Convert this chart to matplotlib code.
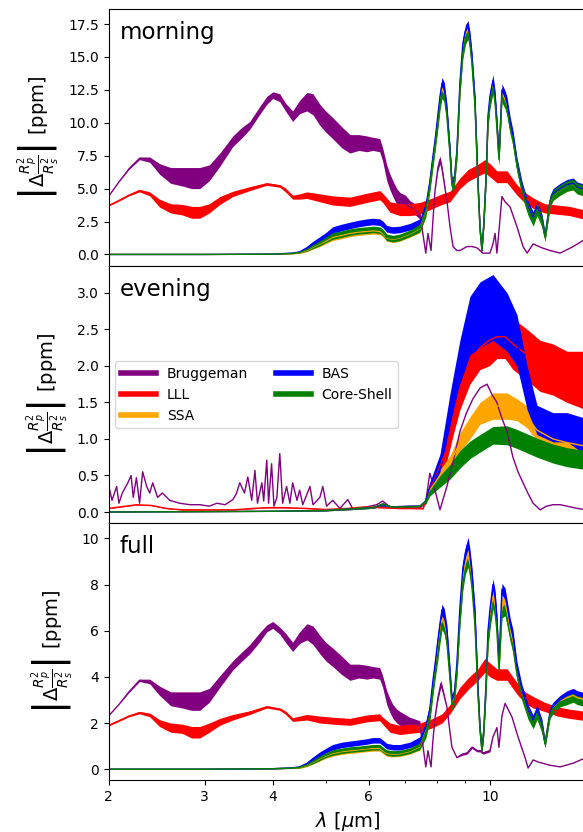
import numpy as np
import matplotlib
matplotlib.use("Agg")
import matplotlib.pyplot as plt
from matplotlib.ticker import FixedLocator, NullFormatter
from matplotlib.lines import Line2D

# ---------------- data (wavelength in micron, values in ppm) ----------------
series_names = ["Bruggeman", "LLL", "SSA", "BAS", "Core-Shell"]
series_colors = ["purple", "red", "orange", "blue", "green"]
panel_labels = ["morning", "evening", "full"]
xtick_vals = [2, 3, 4, 6, 10]
xtick_labels = ["2", "3", "4", "6", "10"]
xminor_vals = [5, 7, 8, 9]

# --- morning: Bruggeman
morning_brug_lam = [2.0, 2.09, 2.18, 2.28, 2.38, 2.48, 2.6, 2.73, 2.84, 2.94,
                    3.06, 3.2, 3.38, 3.5, 3.63, 3.78, 3.9, 4.0, 4.12, 4.22,
                    4.35, 4.48, 4.62, 4.74, 4.88, 5.0, 5.15, 5.35, 5.54, 5.75,
                    5.95, 6.1, 6.28, 6.36, 6.47, 6.56, 6.64, 6.75, 6.84, 7.0,
                    7.13, 7.3, 7.44, 7.54, 7.63, 7.70, 7.80, 7.86, 7.93, 8.03,
                    8.10, 8.17, 8.34, 8.45, 8.56, 8.70, 8.81, 9.08, 9.27, 9.47,
                    9.71, 10.0, 10.13, 10.22, 10.30, 10.39, 10.52, 10.66, 10.89, 11.21,
                    11.5, 11.7, 12.0, 12.46, 12.89, 13.45, 14.21, 15.0]
morning_brug_val = [4.4, 5.5, 6.5, 7.3, 7.2, 6.5, 6.0, 5.9, 5.8, 5.8,
                    6.2, 7.2, 8.6, 9.2, 9.8, 10.9, 11.7, 12.1, 11.9, 11.2,
                    10.5, 11.2, 11.6, 11.4, 10.6, 10.1, 9.6, 8.9, 8.4, 8.5,
                    8.4, 8.4, 8.3, 7.6, 6.2, 5.5, 5.0, 4.4, 4.1, 3.9,
                    3.6, 3.4, 3.0, 1.5, 0.1, 1.6, 0.3, 2.5, 4.8, 6.6,
                    7.2, 6.5, 4.1, 2.1, 0.6, 0.3, 0.3, 0.6, 0.6, 0.5,
                    0.1, 0.1, 0.8, 1.6, 0.1, 1.8, 4.4, 4.0, 3.6, 2.1,
                    0.6, 0.1, 0.8, 0.5, 0.3, 0.1, 0.6, 1.2]
morning_brug_spread = [0, 0, 0.05, 0.1, 0.2, 0.4, 0.6, 0.7, 0.8, 0.8,
                       0.6, 0.5, 0.4, 0.4, 0.3, 0.3, 0.3, 0.25, 0.3, 0.3,
                       0.4, 0.5, 0.7, 0.8, 0.8, 0.8, 0.8, 0.8, 0.7, 0.6,
                       0.6, 0.5, 0.5, 0.5, 0.6, 0.6, 0.6, 0.6, 0.6, 0.6,
                       0.5, 0.4, 0.3, 0, 0, 0, 0, 0, 0, 0.2,
                       0.3, 0.2, 0, 0, 0, 0, 0, 0, 0, 0,
                       0, 0, 0, 0, 0, 0, 0, 0, 0, 0,
                       0, 0, 0, 0, 0, 0, 0, 0]

# --- LLL grid (morning and full)
lll_lam = [2.0, 2.09, 2.18, 2.28, 2.38, 2.48, 2.6, 2.73, 2.84, 2.94,
           3.06, 3.2, 3.38, 3.63, 3.9, 4.12, 4.22, 4.35, 4.48, 4.62,
           4.88, 5.15, 5.54, 5.95, 6.28, 6.36, 6.56, 6.84, 7.13, 7.44,
           7.86, 8.17, 8.45, 8.81, 9.12, 9.51, 9.79, 10.0, 10.3, 10.75,
           11.21, 11.6, 12.0, 12.6, 13.3, 14.0, 15.0]
morning_lll_val = [3.7, 4.1, 4.5, 4.85, 4.6, 3.9, 3.5, 3.4, 3.2, 3.2,
                   3.5, 4.1, 4.6, 5.0, 5.35, 5.2, 4.9, 4.35, 4.4, 4.5,
                   4.3, 4.1, 4.0, 4.3, 4.5, 4.3, 3.6, 3.4, 3.4, 3.5,
                   3.9, 4.2, 4.4, 5.4, 6.0, 6.4, 6.7, 6.4, 5.9, 5.9,
                   4.9, 4.3, 3.9, 3.5, 3.4, 3.3, 3.0]
morning_lll_spread = [0.03, 0.05, 0.05, 0.1, 0.15, 0.3, 0.35, 0.4, 0.45, 0.45,
                      0.35, 0.3, 0.2, 0.15, 0.1, 0.1, 0.15, 0.15, 0.2, 0.25,
                      0.3, 0.35, 0.35, 0.35, 0.35, 0.35, 0.4, 0.45, 0.45, 0.45,
                      0.4, 0.4, 0.4, 0.4, 0.45, 0.45, 0.5, 0.5, 0.45, 0.45,
                      0.4, 0.4, 0.4, 0.35, 0.35, 0.35, 0.35]

# --- dust-type grid (morning and full: SSA, BAS, Core-Shell)
dust_lam = [2.0, 3.0, 4.0, 4.35, 4.48, 4.62, 4.74, 4.88, 5.0, 5.15,
            5.35, 5.54, 5.75, 5.95, 6.1, 6.28, 6.36, 6.47, 6.64, 6.84,
            7.13, 7.44, 7.63, 7.76, 7.86, 7.93, 8.03, 8.10, 8.17, 8.25,
            8.34, 8.45, 8.52, 8.60, 8.70, 8.81, 8.92, 9.02, 9.12, 9.19,
            9.27, 9.39, 9.51, 9.59, 9.67, 9.75, 9.84, 9.92, 10.0, 10.13,
            10.22, 10.30, 10.39, 10.52, 10.66, 10.75, 10.89, 11.02, 11.21, 11.45,
            11.6, 11.75, 12.0, 12.2, 12.46, 12.62, 12.89, 13.05, 13.45, 13.85,
            14.21, 14.45, 15.0]
morning_ssa_val = [0.0, 0.0, 0.02, 0.07, 0.13, 0.3, 0.55, 0.8, 1.0, 1.3,
                   1.45, 1.6, 1.7, 1.75, 1.8, 1.75, 1.6, 1.25, 1.15, 1.25,
                   1.55, 1.95, 3.3, 5.3, 7.1, 8.3, 10.2, 11.6, 12.6, 12.2,
                   10.7, 7.7, 5.3, 5.5, 7.7, 12.6, 15.6, 16.7, 17.1, 16.2,
                   14.7, 11.4, 5.3, 2.0, 0.3, 2.4, 5.9, 10.2, 11.7, 13.0,
                   11.7, 9.8, 7.3, 12.3, 11.7, 11.2, 9.8, 8.8, 6.8, 5.0,
                   4.2, 3.5, 2.7, 3.5, 2.5, 1.3, 4.0, 4.5, 4.9, 5.2,
                   5.3, 5.0, 4.8]
morning_bas_val = [0.0, 0.0, 0.03, 0.1, 0.2, 0.5, 0.85, 1.15, 1.45, 1.85,
                   2.05, 2.2, 2.35, 2.45, 2.5, 2.45, 2.3, 1.95, 1.85, 1.9,
                   2.1, 2.4, 3.6, 5.5, 7.4, 8.6, 10.6, 12.0, 13.0, 12.6,
                   11.0, 7.9, 5.4, 5.6, 7.9, 13.0, 16.0, 17.0, 17.3, 16.5,
                   15.0, 11.7, 5.4, 2.0, 0.3, 2.5, 6.0, 10.5, 12.0, 13.2,
                   12.0, 10.0, 7.4, 12.5, 12.0, 11.5, 10.0, 9.0, 6.9, 5.1,
                   4.3, 3.6, 2.8, 3.6, 2.6, 1.35, 4.1, 4.6, 5.0, 5.3,
                   5.4, 5.1, 4.9]
morning_core_val = [0.0, 0.0, 0.02, 0.08, 0.15, 0.35, 0.6, 0.85, 1.1, 1.4,
                    1.55, 1.7, 1.8, 1.85, 1.9, 1.85, 1.7, 1.3, 1.2, 1.3,
                    1.6, 2.0, 3.3, 5.2, 7.0, 8.2, 10.0, 11.4, 12.3, 12.0,
                    10.5, 7.6, 5.2, 5.4, 7.6, 12.4, 15.3, 16.4, 16.8, 16.0,
                    14.5, 11.2, 5.2, 2.0, 0.3, 2.4, 5.8, 10.0, 11.5, 12.7,
                    11.5, 9.6, 7.2, 12.0, 11.5, 11.0, 9.6, 8.7, 6.7, 4.9,
                    4.1, 3.4, 2.6, 3.4, 2.5, 1.3, 4.0, 4.5, 4.9, 5.2,
                    5.3, 5.0, 4.8]
morning_dust_spread = [0, 0, 0.01, 0.03, 0.05, 0.1, 0.15, 0.2, 0.2, 0.25,
                       0.25, 0.25, 0.25, 0.25, 0.25, 0.25, 0.25, 0.25, 0.25, 0.25,
                       0.25, 0.3, 0.45, 0.45, 0.45, 0.45, 0.45, 0.45, 0.45, 0.45,
                       0.45, 0.45, 0.45, 0.45, 0.45, 0.45, 0.45, 0.45, 0.45, 0.45,
                       0.45, 0.45, 0.45, 0.3, 0.1, 0.3, 0.45, 0.45, 0.45, 0.45,
                       0.45, 0.45, 0.45, 0.45, 0.45, 0.45, 0.45, 0.45, 0.45, 0.45,
                       0.45, 0.45, 0.45, 0.45, 0.45, 0.3, 0.4, 0.4, 0.4, 0.4,
                       0.4, 0.4, 0.4]

# --- evening
evening_brug_lam = [2.0, 2.01, 2.03, 2.07, 2.09, 2.12, 2.17, 2.20, 2.22, 2.25,
                    2.28, 2.31, 2.35, 2.38, 2.41, 2.46, 2.51, 2.59, 2.70, 2.82,
                    2.94, 3.06, 3.16, 3.27, 3.38, 3.43, 3.48, 3.55, 3.60, 3.66,
                    3.71, 3.75, 3.82, 3.85, 3.90, 3.93, 3.98, 4.02, 4.07, 4.12,
                    4.17, 4.24, 4.30, 4.35, 4.43, 4.48, 4.54, 4.68, 4.74, 4.88,
                    4.94, 5.02, 5.15, 5.31, 5.49, 5.61, 5.95, 6.2, 6.36, 6.56,
                    6.84, 7.44, 7.63, 7.76, 7.93, 8.1, 8.34, 8.6, 8.81, 9.05,
                    9.31, 9.6, 9.88, 10.1, 10.3, 10.5, 10.75, 11.02, 11.26, 11.5,
                    11.75, 12.0, 12.36, 12.7, 13.05, 13.45, 13.85, 14.45, 15.0]
evening_brug_val = [0.22, 0.3, 0.16, 0.35, 0.12, 0.26, 0.4, 0.5, 0.2, 0.47,
                    0.12, 0.55, 0.35, 0.26, 0.4, 0.2, 0.26, 0.16, 0.12, 0.1,
                    0.1, 0.08, 0.12, 0.1, 0.17, 0.25, 0.4, 0.26, 0.48, 0.16,
                    0.57, 0.12, 0.4, 0.15, 0.71, 0.12, 0.66, 0.08, 0.2, 0.8,
                    0.12, 0.35, 0.12, 0.4, 0.16, 0.3, 0.1, 0.35, 0.1, 0.2,
                    0.35, 0.08, 0.16, 0.05, 0.17, 0.04, 0.07, 0.1, 0.15, 0.07,
                    0.05, 0.05, 0.15, 0.53, 0.3, 0.03, 0.35, 0.75, 1.1, 1.35,
                    1.55, 1.7, 1.75, 1.6, 1.5, 1.3, 1.1, 0.75, 0.55, 0.4,
                    0.25, 0.12, 0.03, 0.08, 0.1, 0.1, 0.08, 0.05, 0.03]

evening_lll_lam = [2.0, 2.1, 2.25, 2.4, 2.55, 2.73, 3.0, 3.38, 3.7, 3.9,
                   4.2, 4.6, 5.0, 5.5, 5.9, 6.36, 6.8, 7.13, 7.54, 7.76,
                   8.0, 8.34, 8.56, 8.81, 9.19, 9.59, 9.97, 10.3, 10.66, 11.02,
                   11.7, 12.36, 13.05, 13.85, 15.0]
evening_lll_val = [0.05, 0.07, 0.1, 0.09, 0.05, 0.03, 0.03, 0.03, 0.05, 0.06,
                   0.06, 0.05, 0.035, 0.05, 0.07, 0.06, 0.05, 0.05, 0.05, 0.33,
                   0.55, 0.85, 1.3, 1.7, 2.05, 2.25, 2.35, 2.4, 2.4, 2.3,
                   2.15, 2.0, 1.95, 1.85, 1.8]
evening_lll_spread = [0.005, 0.005, 0.005, 0.005, 0.005, 0.005, 0.005, 0.005, 0.005, 0.005,
                      0.005, 0.005, 0.005, 0.005, 0.005, 0.005, 0.005, 0.005, 0.01, 0.05,
                      0.1, 0.15, 0.25, 0.3, 0.3, 0.3, 0.35, 0.3, 0.3, 0.35,
                      0.35, 0.35, 0.35, 0.35, 0.4]

evening_dust_lam = [2.0, 3.0, 4.0, 5.0, 5.5, 6.1, 6.36, 6.6, 7.13, 7.44,
                    7.63, 7.76, 8.1, 8.45, 8.81, 9.19, 9.59, 10.13, 10.75, 11.21,
                    11.7, 12.2, 13.05, 13.85, 15.0]
evening_ssa_val = [0.0, 0.005, 0.01, 0.02, 0.04, 0.06, 0.1, 0.07, 0.08, 0.08,
                   0.15, 0.3, 0.5, 0.67, 0.95, 1.15, 1.35, 1.45, 1.45, 1.4,
                   1.3, 1.12, 1.0, 0.95, 0.9]
evening_ssa_spread = [0, 0, 0, 0.005, 0.01, 0.01, 0.02, 0.01, 0.01, 0.01,
                      0.03, 0.05, 0.08, 0.1, 0.13, 0.15, 0.15, 0.18, 0.18, 0.15,
                      0.15, 0.15, 0.15, 0.15, 0.15]
evening_bas_val = [0.0, 0.005, 0.01, 0.02, 0.04, 0.06, 0.1, 0.07, 0.08, 0.08,
                   0.15, 0.35, 0.67, 1.4, 2.05, 2.55, 2.7, 2.8, 2.6, 2.35,
                   1.7, 1.26, 1.16, 1.16, 1.03]
evening_bas_spread = [0, 0, 0, 0.005, 0.01, 0.01, 0.02, 0.01, 0.01, 0.01,
                      0.03, 0.06, 0.12, 0.22, 0.3, 0.4, 0.45, 0.45, 0.4, 0.35,
                      0.3, 0.2, 0.2, 0.2, 0.25]
evening_core_val = [0.0, 0.005, 0.01, 0.02, 0.04, 0.06, 0.11, 0.07, 0.07, 0.08,
                    0.14, 0.27, 0.42, 0.55, 0.72, 0.85, 0.94, 1.05, 1.05, 1.0,
                    0.94, 0.88, 0.8, 0.75, 0.71]
evening_core_spread = [0, 0, 0, 0.005, 0.01, 0.01, 0.02, 0.01, 0.01, 0.01,
                       0.03, 0.05, 0.08, 0.1, 0.12, 0.12, 0.12, 0.12, 0.13, 0.13,
                       0.13, 0.13, 0.13, 0.13, 0.13]

# --- full
full_brug_lam = [2.0, 2.09, 2.18, 2.28, 2.38, 2.48, 2.6, 2.73, 2.84, 2.94,
                 3.06, 3.2, 3.38, 3.5, 3.63, 3.78, 3.9, 4.0, 4.12, 4.22,
                 4.35, 4.48, 4.62, 4.74, 4.88, 5.0, 5.15, 5.35, 5.54, 5.75,
                 5.95, 6.1, 6.28, 6.36, 6.47, 6.56, 6.64, 6.75, 6.84, 7.13,
                 7.44, 7.54, 7.63, 7.70, 7.80, 7.86, 7.93, 8.03, 8.13, 8.20,
                 8.34, 8.45, 8.52, 8.70, 8.90, 9.08, 9.27, 9.47, 9.59, 9.71,
                 10.0, 10.13, 10.30, 10.39, 10.52, 10.66, 10.98, 11.26, 11.6, 11.75,
                 12.0, 12.3, 12.89, 13.45, 14.21, 15.0]
full_brug_val = [2.3, 2.8, 3.35, 3.85, 3.8, 3.4, 3.05, 3.0, 2.95, 2.95,
                 3.2, 3.8, 4.5, 4.85, 5.2, 5.7, 6.1, 6.25, 6.0, 5.7,
                 5.3, 5.7, 5.95, 5.8, 5.4, 5.1, 4.85, 4.5, 4.2, 4.25,
                 4.2, 4.2, 4.15, 3.8, 3.1, 2.75, 2.5, 2.3, 2.2, 2.0,
                 1.9, 1.0, 0.1, 0.8, 0.1, 1.2, 2.2, 3.1, 3.7, 3.4,
                 2.7, 1.6, 0.95, 0.5, 0.65, 0.7, 0.95, 0.8, 0.8, 0.7,
                 0.8, 1.4, 1.8, 0.95, 2.3, 2.85, 2.25, 1.4, 0.5, 0.05,
                 0.4, 0.3, 0.17, 0.1, 0.26, 0.5]
full_brug_spread = [0, 0, 0.03, 0.05, 0.1, 0.2, 0.3, 0.35, 0.4, 0.4,
                    0.3, 0.25, 0.2, 0.2, 0.2, 0.2, 0.15, 0.15, 0.15, 0.2,
                    0.2, 0.25, 0.35, 0.4, 0.4, 0.4, 0.4, 0.4, 0.35, 0.3,
                    0.3, 0.25, 0.25, 0.25, 0.3, 0.3, 0.3, 0.3, 0.3, 0.25,
                    0.2, 0, 0, 0, 0, 0, 0, 0.1, 0.15, 0.1,
                    0, 0, 0, 0, 0.05, 0.05, 0.05, 0.05, 0.05, 0.05,
                    0.05, 0, 0, 0, 0, 0, 0, 0, 0, 0,
                    0, 0, 0, 0, 0, 0]
full_lll_val = [1.9, 2.1, 2.3, 2.45, 2.35, 2.0, 1.8, 1.75, 1.6, 1.6,
                1.8, 2.05, 2.25, 2.45, 2.7, 2.6, 2.45, 2.15, 2.2, 2.25,
                2.15, 2.1, 2.05, 2.2, 2.25, 2.1, 1.8, 1.7, 1.75, 1.8,
                2.0, 2.2, 2.6, 3.3, 3.7, 4.1, 4.5, 4.3, 4.1, 4.1,
                3.5, 3.1, 2.9, 2.7, 2.5, 2.4, 2.3]
full_lll_spread = [0.03, 0.03, 0.03, 0.05, 0.08, 0.15, 0.2, 0.2, 0.25, 0.25,
                   0.2, 0.15, 0.12, 0.08, 0.05, 0.05, 0.07, 0.08, 0.1, 0.12,
                   0.15, 0.15, 0.15, 0.15, 0.15, 0.15, 0.2, 0.2, 0.2, 0.2,
                   0.2, 0.2, 0.2, 0.25, 0.25, 0.25, 0.3, 0.3, 0.25, 0.25,
                   0.25, 0.25, 0.25, 0.2, 0.2, 0.2, 0.2]
full_ssa_val = [0.0, 0.0, 0.02, 0.05, 0.07, 0.16, 0.3, 0.45, 0.57, 0.68,
                0.76, 0.8, 0.84, 0.88, 0.9, 0.9, 0.8, 0.68, 0.65, 0.67,
                0.77, 0.97, 1.65, 2.4, 3.5, 4.2, 5.2, 5.9, 6.5, 6.3,
                5.7, 4.0, 2.9, 3.1, 4.3, 6.6, 8.2, 8.9, 9.3, 8.8,
                8.1, 6.4, 3.3, 1.7, 0.8, 1.7, 3.6, 5.7, 6.5, 7.5,
                7.1, 6.2, 4.4, 7.2, 7.2, 6.8, 6.0, 5.5, 4.2, 3.3,
                2.9, 2.45, 2.05, 2.45, 1.85, 1.1, 2.45, 2.65, 2.95, 3.1,
                3.2, 3.1, 3.0]
full_bas_val = [0.0, 0.0, 0.02, 0.06, 0.1, 0.25, 0.45, 0.65, 0.8, 0.95,
                1.05, 1.1, 1.15, 1.2, 1.25, 1.25, 1.15, 1.0, 0.95, 0.95,
                1.05, 1.25, 1.8, 2.6, 3.8, 4.5, 5.6, 6.3, 6.9, 6.7,
                6.0, 4.2, 3.0, 3.2, 4.6, 7.0, 8.7, 9.4, 9.8, 9.3,
                8.5, 6.75, 3.5, 1.8, 0.8, 1.8, 3.8, 6.0, 6.9, 8.0,
                7.5, 6.5, 4.6, 7.8, 7.6, 7.1, 6.3, 5.8, 4.4, 3.4,
                3.0, 2.55, 2.1, 2.55, 1.9, 1.1, 2.5, 2.7, 3.0, 3.2,
                3.3, 3.2, 3.1]
full_core_val = [0.0, 0.0, 0.02, 0.05, 0.08, 0.18, 0.32, 0.48, 0.6, 0.72,
                 0.8, 0.85, 0.88, 0.92, 0.95, 0.95, 0.85, 0.72, 0.68, 0.7,
                 0.8, 1.0, 1.6, 2.3, 3.4, 4.1, 5.0, 5.7, 6.3, 6.1,
                 5.5, 3.9, 2.8, 3.0, 4.2, 6.4, 8.0, 8.7, 9.0, 8.6,
                 7.9, 6.2, 3.2, 1.7, 0.8, 1.7, 3.5, 5.5, 6.3, 7.2,
                 6.8, 6.0, 4.3, 6.8, 6.9, 6.5, 5.8, 5.3, 4.1, 3.2,
                 2.8, 2.4, 2.0, 2.4, 1.8, 1.1, 2.4, 2.6, 2.9, 3.0,
                 3.1, 3.0, 2.9]
full_dust_spread = [0, 0, 0.01, 0.02, 0.03, 0.05, 0.08, 0.1, 0.1, 0.12,
                    0.12, 0.12, 0.12, 0.12, 0.12, 0.12, 0.12, 0.12, 0.12, 0.12,
                    0.12, 0.15, 0.25, 0.25, 0.25, 0.25, 0.25, 0.25, 0.25, 0.25,
                    0.25, 0.25, 0.25, 0.25, 0.25, 0.25, 0.25, 0.25, 0.25, 0.25,
                    0.25, 0.25, 0.25, 0.2, 0.1, 0.2, 0.25, 0.25, 0.25, 0.25,
                    0.25, 0.25, 0.25, 0.25, 0.25, 0.25, 0.25, 0.25, 0.25, 0.25,
                    0.25, 0.25, 0.25, 0.25, 0.25, 0.15, 0.2, 0.2, 0.2, 0.2,
                    0.2, 0.2, 0.2]

# panel y-limits
ylims = [(-0.89, 18.64), (-0.155, 3.365), (-0.49, 10.65)]

# ---------------- plotting ----------------
def draw(ax, lam, val, spread, color, lw=1.0):
    lam = np.asarray(lam, float)
    val = np.asarray(val, float)
    if spread is not None:
        s = np.asarray(spread, float)
        ax.fill_between(lam, val - s, val + s, color=color, lw=0)
    ax.plot(lam, val, color=color, lw=lw)

fig, axes = plt.subplots(3, 1, sharex=True, figsize=(5.83, 8.32), dpi=100)
fig.subplots_adjust(left=108.5 / 583, right=586 / 583,
                    top=1 - 9 / 832, bottom=1 - 780.5 / 832, hspace=0)

c = dict(zip(series_names, series_colors))

ax = axes[0]
draw(ax, morning_brug_lam, morning_brug_val, morning_brug_spread, c["Bruggeman"])
draw(ax, lll_lam, morning_lll_val, morning_lll_spread, c["LLL"])
draw(ax, dust_lam, morning_ssa_val, morning_dust_spread, c["SSA"])
draw(ax, dust_lam, morning_bas_val, morning_dust_spread, c["BAS"])
draw(ax, dust_lam, morning_core_val, morning_dust_spread, c["Core-Shell"])

ax = axes[1]
draw(ax, evening_brug_lam, evening_brug_val, None, c["Bruggeman"], lw=1.0)
draw(ax, evening_lll_lam, evening_lll_val, evening_lll_spread, c["LLL"])
draw(ax, evening_dust_lam, evening_ssa_val, evening_ssa_spread, c["SSA"])
draw(ax, evening_dust_lam, evening_bas_val, evening_bas_spread, c["BAS"])
draw(ax, evening_dust_lam, evening_core_val, evening_core_spread, c["Core-Shell"])

ax = axes[2]
draw(ax, full_brug_lam, full_brug_val, full_brug_spread, c["Bruggeman"])
draw(ax, lll_lam, full_lll_val, full_lll_spread, c["LLL"])
draw(ax, dust_lam, full_ssa_val, full_dust_spread, c["SSA"])
draw(ax, dust_lam, full_bas_val, full_dust_spread, c["BAS"])
draw(ax, dust_lam, full_core_val, full_dust_spread, c["Core-Shell"])

ylabel = r"$\left|\Delta\frac{R_p^2}{R_s^2}\right|$ [ppm]"
for ax, lab, yl in zip(axes, panel_labels, ylims):
    ax.set_xscale("log")
    ax.set_ylim(*yl)
    ax.set_ylabel(ylabel, fontsize=14)
    ax.text(0.024, 0.955, lab, transform=ax.transAxes, fontsize=16.5, va="top", ha="left")
    ax.tick_params(labelsize=10)

axes[2].set_xlim(2, 15)
axes[2].xaxis.set_major_locator(FixedLocator(xtick_vals))
axes[2].set_xticklabels(xtick_labels)
axes[2].xaxis.set_minor_locator(FixedLocator(xminor_vals))
axes[2].xaxis.set_minor_formatter(NullFormatter())
axes[2].set_xlabel(r"$\lambda$ [$\mu$m]", fontsize=14)

handles = [Line2D([], [], color=col, lw=4) for col in series_colors]
axes[1].legend(handles, series_names, loc="center left", ncol=2, fontsize=10,
               handlelength=2.5)

fig.savefig("out.png", dpi=100)
